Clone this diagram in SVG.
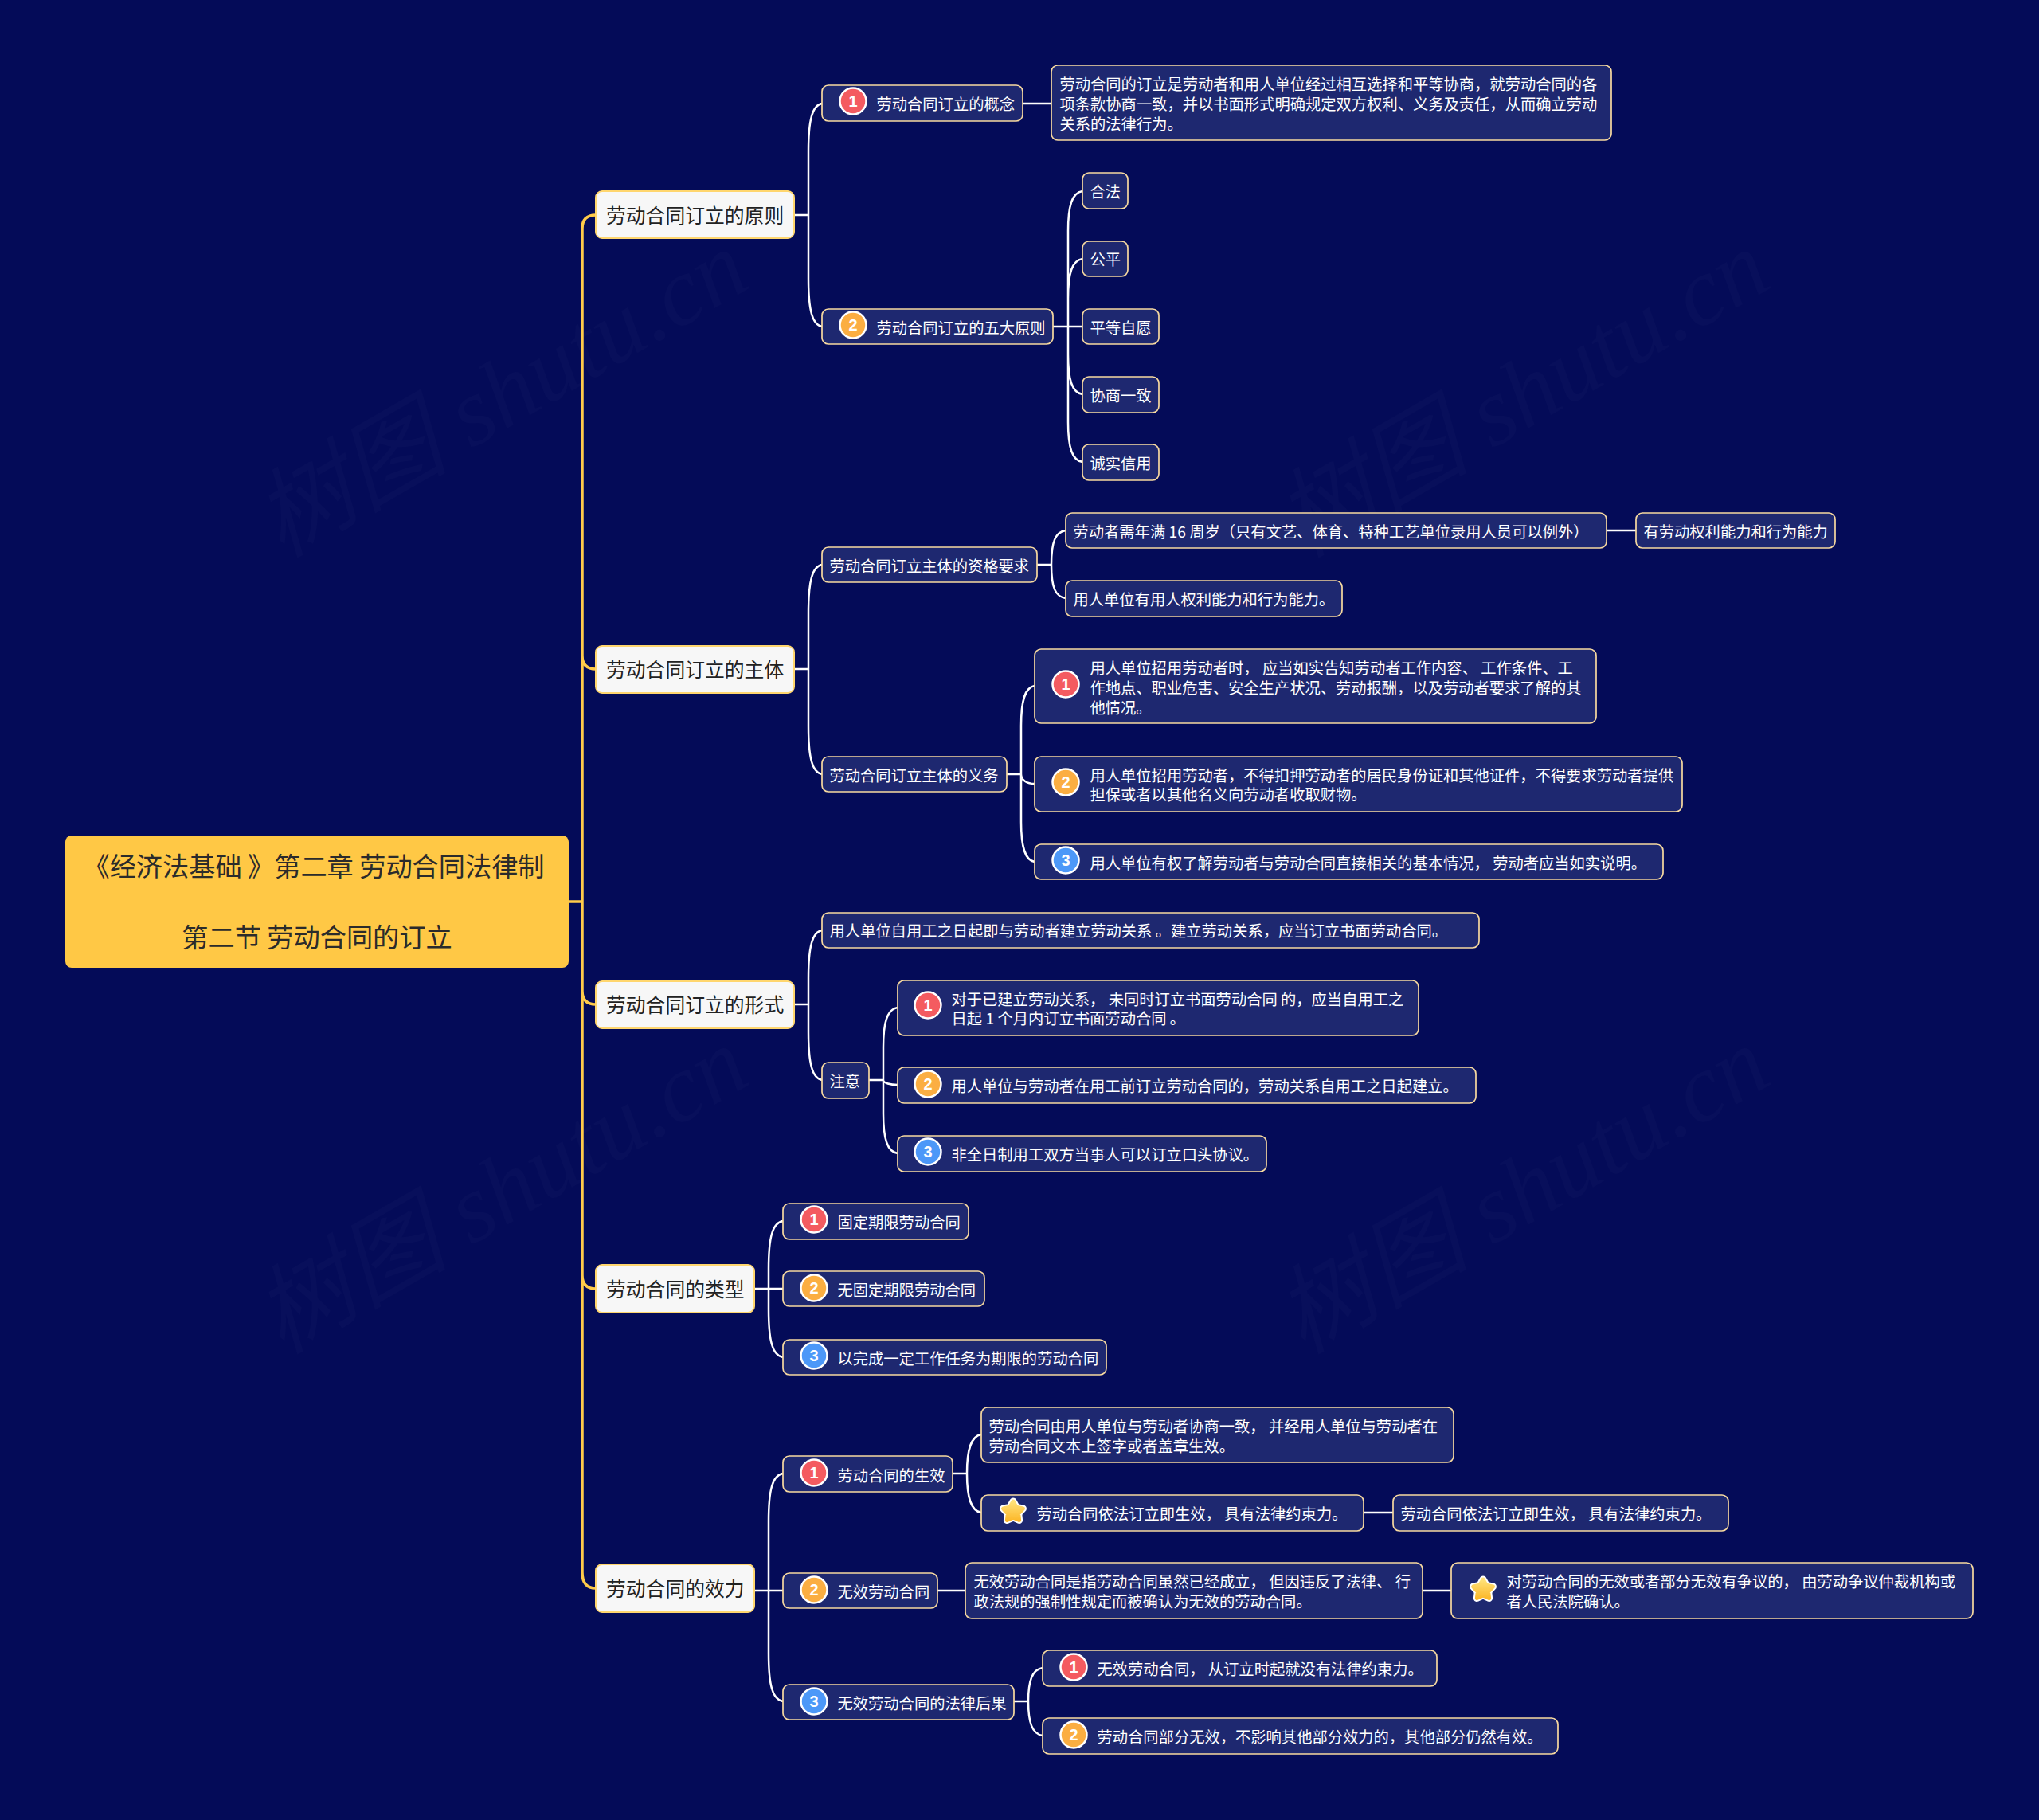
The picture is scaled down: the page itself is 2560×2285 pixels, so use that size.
<svg xmlns="http://www.w3.org/2000/svg" xmlns:xlink="http://www.w3.org/1999/xlink" width="2560" height="2285" viewBox="0 0 2560 2285">
<style>
text{font-family:"Noto Sans CJK SC","Noto Sans",sans-serif}
.n{fill:#1e2870;stroke:#f8daa0;stroke-width:1.7}
.t{fill:#fff;font-size:19.3px;transform:translate(.5px,1px)}
.l1{fill:#f7f7f7;stroke:#ffd66e;stroke-width:2}
.lt{fill:#222;font-size:24.8px;transform:translateY(1px)}
.rt{fill:#2b2b2b;font-size:33.2px;text-anchor:middle;transform:translateY(1px)}
.c{fill:none;stroke:#fff;stroke-width:2.5}
.y{fill:none;stroke:#ffcb4a;stroke-width:3.5}
.ring{stroke:#fff;stroke-width:2.5}
.r{fill:#f45b60}.o{fill:#fbae42}.b{fill:#4c98f8}
.d{fill:#fff;font-family:"Liberation Sans",sans-serif;font-size:20px;font-weight:bold;text-anchor:middle}
.wm{fill:#fff;fill-opacity:.02;font-family:"Liberation Serif","Noto Sans CJK SC",serif;font-size:122px;font-style:italic;text-anchor:middle}
</style>
<defs>
<linearGradient id="g" x1="0" y1="0" x2="0" y2="1"><stop offset="0" stop-color="#ffe27a"/><stop offset="1" stop-color="#fcb92c"/></linearGradient>
<path id="s" d="M0-13L4.1-5.7 12.4-4 6.7 2.2 7.6 10.5 0 7-7.6 10.5-6.7 2.2-12.4-4-4.1-5.7Z" stroke-linejoin="round"/>
<g id="star"><use href="#s" fill="#fff" stroke="#fff" stroke-width="9"/><use href="#s" fill="url(#g)" stroke="url(#g)" stroke-width="5"/></g>
</defs>
<rect width="2560" height="2285" fill="#040b58"/>
<g id="watermarks">
<text class="wm" transform="translate(650 530) rotate(-30)">树图 shutu.cn</text>
<text class="wm" transform="translate(1932 530) rotate(-30)">树图 shutu.cn</text>
<text class="wm" transform="translate(650 1530) rotate(-30)">树图 shutu.cn</text>
<text class="wm" transform="translate(1932 1530) rotate(-30)">树图 shutu.cn</text>
</g>
<g id="connectors">
<path class="y" d="M714 1132H731M748 270Q731 270 731 287V1974Q731 1994 748 1994M731 823Q731 840 748 840M731 1244Q731 1261 748 1261M731 1601Q731 1618 748 1618"/>
<path class="c" d="M997 270H1015M1015 270V190C1015 150 1020 132 1032 130M1015 270V350C1015 390 1020 408 1032 410"/>
<path class="c" d="M997 840H1015M1015 840V769C1015 729 1020 711 1032 709M1015 840V912C1015 952 1020 970 1032 972"/>
<path class="c" d="M997 1261H1015M1015 1261V1228C1015 1188 1020 1170 1032 1168M1015 1261V1296C1015 1336 1020 1354 1032 1356"/>
<path class="c" d="M947 1618H983M965 1618V1593C965 1553 970 1535 983 1533M965 1618V1644C965 1684 970 1702 983 1704"/>
<path class="c" d="M947 1997H983M965 1997V1910C965 1870 970 1852 983 1850M965 1997V2076C965 2116 970 2134 983 2136"/>
<path class="c" d="M1284 130H1320"/>
<path class="c" d="M1322 410H1359M1341 410V290C1341 258 1346 242 1359 240M1341 410V375C1341 343 1346 327 1359 325M1341 410V445C1341 477 1346 493 1359 495M1341 410V530C1341 562 1346 578 1359 580"/>
<path class="c" d="M1302 709H1320M1320 709C1320 680 1325 668 1338 666M1320 709C1320 738 1325 749 1338 751"/>
<path class="c" d="M2017 666H2054"/>
<path class="c" d="M1264 972H1282M1282 972V911C1282 879 1287 863 1299 861M1282 972C1282 980 1290 984 1299 984M1282 972V1032C1282 1064 1287 1080 1299 1082"/>
<path class="c" d="M1091 1356H1109M1109 1356V1315C1109 1283 1114 1267 1127 1265M1109 1356C1109 1360 1118 1362 1127 1362M1109 1356V1398C1109 1430 1114 1446 1127 1448"/>
<path class="c" d="M1196 1850H1214M1214 1850C1214 1820 1219 1803 1232 1801M1214 1850C1214 1880 1219 1897 1232 1899"/>
<path class="c" d="M1712 1899H1749"/>
<path class="c" d="M1177 1997H1212M1786 1997H1822"/>
<path class="c" d="M1273 2136H1291M1291 2136C1291 2110 1296 2096 1309 2094M1291 2136C1291 2163 1296 2177 1309 2179"/>
</g>
<g id="root"><rect x="82" y="1049" width="632" height="166" rx="8" fill="#ffc845"/>
<text class="rt" x="394" y="1099">《经济法基础 》第二章 劳动合同法律制</text>
<text class="rt" x="398" y="1188">第二节 劳动合同的订立</text></g>
<g id="t1"><rect class="l1" x="748" y="240" width="249" height="59" rx="8"/><text class="lt" x="761" y="279">劳动合同订立的原则</text></g>
<g id="t2"><rect class="l1" x="748" y="811" width="249" height="59" rx="8"/><text class="lt" x="761" y="849">劳动合同订立的主体</text></g>
<g id="t3"><rect class="l1" x="748" y="1232" width="249" height="59" rx="8"/><text class="lt" x="761" y="1270">劳动合同订立的形式</text></g>
<g id="t4"><rect class="l1" x="748" y="1588" width="199" height="60" rx="8"/><text class="lt" x="761" y="1627">劳动合同的类型</text></g>
<g id="t5"><rect class="l1" x="748" y="1964" width="199" height="60" rx="8"/><text class="lt" x="761" y="2003">劳动合同的效力</text></g>

<g id="n1"><rect class="n" x="1032" y="107" width="252" height="45" rx="8"/><circle class="r ring" cx="1071" cy="127" r="16.5"/><text class="d" x="1071" y="134">1</text><text class="t" x="1100" y="137">劳动合同订立的概念</text></g>
<g id="n2"><rect class="n" x="1320" y="82" width="703" height="94" rx="8"/><text class="t" x="1330" y="112">劳动合同的订立是劳动者和用人单位经过相互选择和平等协商，就劳动合同的各</text><text class="t" x="1330" y="137">项条款协商一致，并以书面形式明确规定双方权利、义务及责任，从而确立劳动</text><text class="t" x="1330" y="162">关系的法律行为。</text></g>
<g id="n3"><rect class="n" x="1032" y="388" width="290" height="44" rx="8"/><circle class="o ring" cx="1071" cy="408" r="16.5"/><text class="d" x="1071" y="415">2</text><text class="t" x="1100" y="418">劳动合同订立的五大原则</text></g>
<g id="n4"><rect class="n" x="1359" y="217" width="57" height="45" rx="8"/><text class="t" x="1368" y="247">合法</text></g>
<g id="n5"><rect class="n" x="1359" y="303" width="57" height="44" rx="8"/><text class="t" x="1368" y="332">公平</text></g>
<g id="n6"><rect class="n" x="1359" y="388" width="96" height="44" rx="8"/><text class="t" x="1368" y="418">平等自愿</text></g>
<g id="n7"><rect class="n" x="1359" y="473" width="96" height="45" rx="8"/><text class="t" x="1368" y="503">协商一致</text></g>
<g id="n8"><rect class="n" x="1359" y="558" width="96" height="45" rx="8"/><text class="t" x="1368" y="588">诚实信用</text></g>

<g id="n9"><rect class="n" x="1032" y="687" width="270" height="44" rx="8"/><text class="t" x="1041" y="717">劳动合同订立主体的资格要求</text></g>
<g id="n10"><rect class="n" x="1338" y="644" width="679" height="44" rx="8"/><text class="t" x="1347" y="674">劳动者需年满 16 周岁（只有文艺、体育、特种工艺单位录用人员可以例外）</text></g>
<g id="n11"><rect class="n" x="2054" y="644" width="250" height="44" rx="8"/><text class="t" x="2063" y="674">有劳动权利能力和行为能力</text></g>
<g id="n12"><rect class="n" x="1338" y="729" width="347" height="45" rx="8"/><text class="t" x="1347" y="759">用人单位有用人权利能力和行为能力。</text></g>
<g id="n13"><rect class="n" x="1032" y="950" width="232" height="44" rx="8"/><text class="t" x="1041" y="980">劳动合同订立主体的义务</text></g>
<g id="n14"><rect class="n" x="1299" y="815" width="705" height="93" rx="8"/><circle class="r ring" cx="1338" cy="859" r="16.5"/><text class="d" x="1338" y="866">1</text><text class="t" x="1368" y="845">用人单位招用劳动者时， 应当如实告知劳动者工作内容、 工作条件、工</text><text class="t" x="1368" y="870">作地点、职业危害、安全生产状况、劳动报酬，以及劳动者要求了解的其</text><text class="t" x="1368" y="895">他情况。</text></g>
<g id="n15"><rect class="n" x="1299" y="950" width="813" height="69" rx="8"/><circle class="o ring" cx="1338" cy="982" r="16.5"/><text class="d" x="1338" y="989">2</text><text class="t" x="1368" y="980">用人单位招用劳动者，不得扣押劳动者的居民身份证和其他证件，不得要求劳动者提供</text><text class="t" x="1368" y="1004">担保或者以其他名义向劳动者收取财物。</text></g>
<g id="n16"><rect class="n" x="1299" y="1060" width="789" height="44" rx="8"/><circle class="b ring" cx="1338" cy="1080" r="16.5"/><text class="d" x="1338" y="1087">3</text><text class="t" x="1368" y="1090">用人单位有权了解劳动者与劳动合同直接相关的基本情况， 劳动者应当如实说明。</text></g>

<g id="n17"><rect class="n" x="1032" y="1146" width="825" height="44" rx="8"/><text class="t" x="1041" y="1175">用人单位自用工之日起即与劳动者建立劳动关系 。建立劳动关系，应当订立书面劳动合同。</text></g>
<g id="n18"><rect class="n" x="1032" y="1334" width="59" height="45" rx="8"/><text class="t" x="1041" y="1364">注意</text></g>
<g id="n19"><rect class="n" x="1127" y="1231" width="654" height="69" rx="8"/><circle class="r ring" cx="1165" cy="1262" r="16.5"/><text class="d" x="1165" y="1269">1</text><text class="t" x="1194" y="1261">对于已建立劳动关系， 未同时订立书面劳动合同 的，应当自用工之</text><text class="t" x="1194" y="1285">日起 1 个月内订立书面劳动合同 。</text></g>
<g id="n20"><rect class="n" x="1127" y="1340" width="726" height="45" rx="8"/><circle class="o ring" cx="1165" cy="1361" r="16.5"/><text class="d" x="1165" y="1368">2</text><text class="t" x="1194" y="1370">用人单位与劳动者在用工前订立劳动合同的，劳动关系自用工之日起建立。</text></g>
<g id="n21"><rect class="n" x="1127" y="1426" width="463" height="45" rx="8"/><circle class="b ring" cx="1165" cy="1446" r="16.5"/><text class="d" x="1165" y="1453">3</text><text class="t" x="1194" y="1456">非全日制用工双方当事人可以订立口头协议。</text></g>

<g id="n22"><rect class="n" x="983" y="1511" width="233" height="45" rx="8"/><circle class="r ring" cx="1022" cy="1531" r="16.5"/><text class="d" x="1022" y="1538">1</text><text class="t" x="1051" y="1541">固定期限劳动合同</text></g>
<g id="n23"><rect class="n" x="983" y="1596" width="253" height="44" rx="8"/><circle class="o ring" cx="1022" cy="1617" r="16.5"/><text class="d" x="1022" y="1624">2</text><text class="t" x="1051" y="1626">无固定期限劳动合同</text></g>
<g id="n24"><rect class="n" x="983" y="1682" width="406" height="44" rx="8"/><circle class="b ring" cx="1022" cy="1702" r="16.5"/><text class="d" x="1022" y="1709">3</text><text class="t" x="1051" y="1712">以完成一定工作任务为期限的劳动合同</text></g>

<g id="n25"><rect class="n" x="983" y="1828" width="213" height="45" rx="8"/><circle class="r ring" cx="1022" cy="1849" r="16.5"/><text class="d" x="1022" y="1856">1</text><text class="t" x="1051" y="1859">劳动合同的生效</text></g>
<g id="n26"><rect class="n" x="1232" y="1767" width="593" height="69" rx="8"/><text class="t" x="1241" y="1797">劳动合同由用人单位与劳动者协商一致， 并经用人单位与劳动者在</text><text class="t" x="1241" y="1822">劳动合同文本上签字或者盖章生效。</text></g>
<g id="n27"><rect class="n" x="1232" y="1877" width="480" height="45" rx="8"/><use href="#star" x="1272" y="1898"/><text class="t" x="1301" y="1907">劳动合同依法订立即生效， 具有法律约束力。</text></g>
<g id="n28"><rect class="n" x="1749" y="1877" width="421" height="45" rx="8"/><text class="t" x="1758" y="1907">劳动合同依法订立即生效， 具有法律约束力。</text></g>
<g id="n29"><rect class="n" x="983" y="1975" width="194" height="44" rx="8"/><circle class="o ring" cx="1022" cy="1996" r="16.5"/><text class="d" x="1022" y="2003">2</text><text class="t" x="1051" y="2005">无效劳动合同</text></g>
<g id="n30"><rect class="n" x="1212" y="1962" width="574" height="70" rx="8"/><text class="t" x="1222" y="1992">无效劳动合同是指劳动合同虽然已经成立， 但因违反了法律、 行</text><text class="t" x="1222" y="2017">政法规的强制性规定而被确认为无效的劳动合同。</text></g>
<g id="n31"><rect class="n" x="1822" y="1962" width="655" height="70" rx="8"/><use href="#star" x="1862" y="1996"/><text class="t" x="1891" y="1992">对劳动合同的无效或者部分无效有争议的， 由劳动争议仲裁机构或</text><text class="t" x="1891" y="2017">者人民法院确认。</text></g>
<g id="n32"><rect class="n" x="983" y="2115" width="290" height="44" rx="8"/><circle class="b ring" cx="1022" cy="2136" r="16.5"/><text class="d" x="1022" y="2143">3</text><text class="t" x="1051" y="2145">无效劳动合同的法律后果</text></g>
<g id="n33"><rect class="n" x="1309" y="2072" width="495" height="45" rx="8"/><circle class="r ring" cx="1348" cy="2093" r="16.5"/><text class="d" x="1348" y="2100">1</text><text class="t" x="1377" y="2102">无效劳动合同， 从订立时起就没有法律约束力。</text></g>
<g id="n34"><rect class="n" x="1309" y="2157" width="647" height="45" rx="8"/><circle class="o ring" cx="1348" cy="2178" r="16.5"/><text class="d" x="1348" y="2185">2</text><text class="t" x="1377" y="2187">劳动合同部分无效，不影响其他部分效力的，其他部分仍然有效。</text></g>
</svg>
